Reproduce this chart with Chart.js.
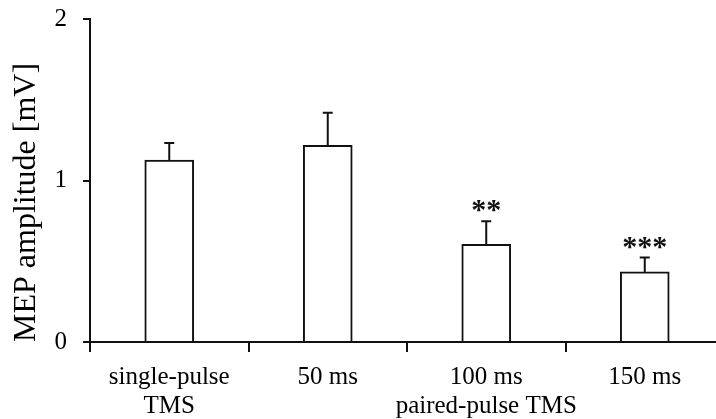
<!DOCTYPE html>
<html>
<head>
<meta charset="utf-8">
<script src="https://cdn.jsdelivr.net/npm/chart.js@4/dist/chart.umd.min.js"></script>
<style>
  html, body { margin: 0; padding: 0; background: #fff; overflow: hidden; }
  #wrap { width: 724px; height: 419px; }
</style>
</head>
<body>
<div id="wrap"><canvas id="mep"></canvas></div>
<script>
// groups on the x axis (multi-line labels as arrays)
const groups = [['single-pulse', 'TMS'], '50 ms', ['100 ms', 'paired-pulse TMS'], '150 ms'];
// mean MEP amplitude [mV] and error (SEM)
const meanAmp = [1.126, 1.217, 0.604, 0.434];
const errAmp = [0.106, 0.202, 0.144, 0.089];
// significance marks above the error bars
const sigMarks = ['', '', '**', '***'];
const yTicks = [0, 1, 2];

const serif = '"Liberation Serif", "Times New Roman", serif';

const errorBars = {
  id: 'errorBars',
  afterDatasetsDraw(chart) {
    const ctx = chart.ctx;
    const y = chart.scales.y;
    const bars = chart.getDatasetMeta(0).data;
    ctx.save();
    ctx.strokeStyle = '#111';
    ctx.lineWidth = 2;
    bars.forEach((bar, i) => {
      const yBar = y.getPixelForValue(meanAmp[i]);
      const yTop = y.getPixelForValue(meanAmp[i] + errAmp[i]);
      ctx.beginPath();
      ctx.moveTo(bar.x, yBar);
      ctx.lineTo(bar.x, yTop);
      ctx.moveTo(bar.x - 5, yTop);
      ctx.lineTo(bar.x + 5, yTop);
      ctx.stroke();
      if (sigMarks[i]) {
        ctx.fillStyle = '#111';
        ctx.font = 'bold 30px ' + serif;
        ctx.textAlign = 'center';
        ctx.textBaseline = 'alphabetic';
        ctx.fillText(sigMarks[i], bar.x, yTop - 2);
      }
    });
    ctx.restore();
  }
};

new Chart(document.getElementById('mep'), {
  type: 'bar',
  data: {
    labels: groups,
    datasets: [{
      data: meanAmp,
      backgroundColor: '#fff',
      borderColor: '#111',
      borderWidth: 2,
      barThickness: 49
    }]
  },
  options: {
    responsive: true,
    maintainAspectRatio: false,
    animation: false,
    layout: { padding: { top: 19, right: 0, left: 0, bottom: 0 } },
    plugins: {
      legend: { display: false },
      tooltip: { enabled: false }
    },
    scales: {
      x: {
        grid: { drawOnChartArea: false, offset: true, color: '#111', lineWidth: 2, tickLength: 10 },
        border: { color: '#111', width: 2 },
        ticks: {
          color: '#000',
          padding: 11,
          maxRotation: 0,
          autoSkip: false,
          font: { family: serif, size: 25, lineHeight: 1.15 }
        },
        afterFit(s) { s.height = 77; s.paddingTop = 0; s.paddingBottom = 0; }
      },
      y: {
        min: 0,
        max: 2,
        afterBuildTicks(s) { s.ticks = yTicks.map(v => ({ value: v })); },
        grid: { drawOnChartArea: false, color: '#111', lineWidth: 2, tickLength: 7 },
        border: { color: '#111', width: 2 },
        ticks: {
          color: '#000',
          padding: 16,
          font: { family: serif, size: 25 }
        },
        title: {
          display: true,
          text: 'MEP amplitude [mV]',
          color: '#000',
          align: 'start',
          padding: { top: 7, bottom: 0 },
          font: { family: serif, size: 32 }
        },
        afterFit(s) { s.width = 90; s.paddingTop = 0; s.paddingBottom = 0; }
      }
    }
  },
  plugins: [errorBars]
});
</script>
</body>
</html>
